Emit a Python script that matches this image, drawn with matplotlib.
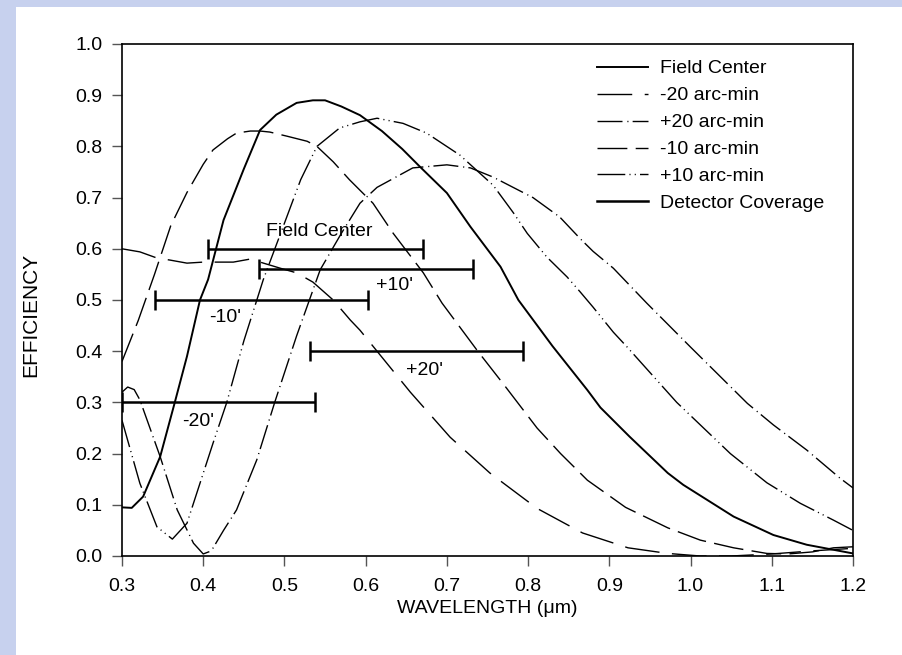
import numpy as np
import matplotlib
matplotlib.use('Agg')
import matplotlib.pyplot as plt
from matplotlib.lines import Line2D
from matplotlib.patches import Rectangle

plt.rcParams['font.family'] = ['Liberation Sans', 'DejaVu Sans']

# ---- efficiency curves ----
fc_x = [0.300, 0.312, 0.326, 0.347, 0.365, 0.380, 0.396, 0.406, 0.425, 0.450, 0.470, 0.490, 0.515,
        0.535, 0.550, 0.570, 0.593, 0.620, 0.645, 0.667, 0.700, 0.729, 0.766, 0.788, 0.830, 0.873,
        0.889, 0.925, 0.972, 0.991, 1.053, 1.102, 1.143, 1.200]
fc_y = [0.095, 0.094, 0.116, 0.194, 0.300, 0.390, 0.500, 0.540, 0.656, 0.756, 0.832, 0.862, 0.885,
        0.890, 0.890, 0.878, 0.861, 0.830, 0.795, 0.760, 0.709, 0.643, 0.565, 0.500, 0.410, 0.324,
        0.290, 0.233, 0.162, 0.139, 0.077, 0.041, 0.022, 0.005]

m20_x = [0.300, 0.322, 0.343, 0.359, 0.380, 0.400, 0.417, 0.437, 0.458, 0.470, 0.495, 0.515, 0.535,
         0.560, 0.581, 0.593, 0.614, 0.655, 0.704, 0.753, 0.811, 0.867, 0.923, 0.972, 1.012, 1.050,
         1.100, 1.150, 1.200]
m20_y = [0.600, 0.594, 0.582, 0.578, 0.572, 0.574, 0.574, 0.574, 0.580, 0.574, 0.562, 0.553, 0.535,
         0.500, 0.461, 0.441, 0.400, 0.320, 0.232, 0.162, 0.093, 0.045, 0.016, 0.005, 0.000, 0.000,
         0.004, 0.010, 0.015]

p20_x = [0.300, 0.307, 0.315, 0.322, 0.347, 0.368, 0.388, 0.400, 0.410, 0.425, 0.441, 0.466, 0.488,
         0.515, 0.544, 0.570, 0.593, 0.614, 0.658, 0.700, 0.729, 0.757, 0.806, 0.839, 0.864, 0.880,
         0.905, 0.946, 1.000, 1.070, 1.102, 1.143, 1.184, 1.200]
p20_y = [0.320, 0.330, 0.325, 0.305, 0.194, 0.090, 0.025, 0.004, 0.010, 0.050, 0.090, 0.188, 0.300,
         0.430, 0.559, 0.630, 0.689, 0.720, 0.758, 0.764, 0.758, 0.740, 0.700, 0.662, 0.620, 0.595,
         0.562, 0.494, 0.408, 0.298, 0.256, 0.207, 0.152, 0.133]

m10_x = [0.300, 0.320, 0.340, 0.360, 0.380, 0.400, 0.412, 0.430, 0.441, 0.458, 0.470, 0.482, 0.503,
         0.528, 0.540, 0.560, 0.580, 0.609, 0.634, 0.671, 0.694, 0.738, 0.770, 0.811, 0.840, 0.873,
         0.920, 0.972, 1.012, 1.053, 1.094, 1.120, 1.150, 1.176, 1.200]
m10_y = [0.380, 0.460, 0.550, 0.645, 0.710, 0.765, 0.793, 0.815, 0.826, 0.830, 0.830, 0.828, 0.820,
         0.810, 0.800, 0.770, 0.735, 0.689, 0.630, 0.553, 0.494, 0.400, 0.335, 0.250, 0.200, 0.148,
         0.095, 0.055, 0.031, 0.016, 0.005, 0.004, 0.008, 0.016, 0.018]

p10_x = [0.300, 0.322, 0.343, 0.362, 0.380, 0.396, 0.412, 0.429, 0.450, 0.474, 0.500, 0.520, 0.540,
         0.568, 0.593, 0.614, 0.646, 0.675, 0.716, 0.757, 0.782, 0.799, 0.823, 0.848, 0.864, 0.880,
         0.905, 0.922, 0.983, 1.049, 1.094, 1.135, 1.176, 1.200]
p10_y = [0.265, 0.142, 0.057, 0.033, 0.064, 0.142, 0.220, 0.300, 0.420, 0.540, 0.650, 0.735, 0.800,
         0.836, 0.848, 0.855, 0.845, 0.826, 0.783, 0.724, 0.670, 0.630, 0.584, 0.545, 0.516, 0.486,
         0.437, 0.408, 0.300, 0.200, 0.143, 0.103, 0.070, 0.050]

# ---- detector coverage bars ----
cov_names = ['Field Center', '+10\'', '-10\'', '+20\'', '-20\'']
cov_y = [0.60, 0.56, 0.50, 0.40, 0.30]
cov_start = [0.406, 0.469, 0.341, 0.532, 0.300]
cov_end = [0.671, 0.732, 0.603, 0.794, 0.538]
lab_x = [0.543, 0.636, 0.427, 0.673, 0.394]
lab_y = [0.633, 0.529, 0.465, 0.363, 0.262]

fig = plt.figure(figsize=(9.03, 6.55), dpi=100)
fig.patch.set_facecolor('#c7d1ee')
# white panel
fig.patches.append(Rectangle((16 / 903, 0), 1, 1 - 7 / 655, transform=fig.transFigure,
                             facecolor='white', edgecolor='none', zorder=-10))

ax = fig.add_axes([122 / 903, 99 / 655, 731 / 903, 512 / 655])
ax.set_facecolor('white')

ax.plot(fc_x, fc_y, color='black', lw=1.4, label='Field Center')
ax.plot(m20_x, m20_y, color='black', lw=1.0, ls=(0, (25, 9)), label='-20 arc-min')
ax.plot(p20_x, p20_y, color='black', lw=1.0, ls=(0, (18, 3.5, 0.8, 3)), label='+20 arc-min')
ax.plot(m10_x, m10_y, color='black', lw=1.0, ls=(0, (21.5, 6)), label='-10 arc-min')
ax.plot(p10_x, p10_y, color='black', lw=1.0, ls=(0, (20, 3, 0.8, 3, 0.8, 3)), label='+10 arc-min')

for i in range(len(cov_y)):
    ax.plot([cov_start[i], cov_end[i]], [cov_y[i], cov_y[i]], color='black', lw=1.8,
            marker='|', markersize=15, markeredgewidth=1.8, solid_capstyle='butt')
    ax.text(lab_x[i], lab_y[i], cov_names[i], fontsize=14, ha='center', va='center')

ax.set_xlim(0.3, 1.2)
ax.set_ylim(0.0, 1.0)
ax.set_xticks(np.arange(0.3, 1.21, 0.1))
ax.set_yticks(np.arange(0.0, 1.01, 0.1))
ax.xaxis.set_major_formatter(plt.FormatStrFormatter('%.1f'))
ax.yaxis.set_major_formatter(plt.FormatStrFormatter('%.1f'))
ax.tick_params(direction='out', length=7, width=1, color='#555555', labelsize=14)
ax.tick_params(axis='x', pad=9)
ax.tick_params(axis='y', pad=7)
for s in ax.spines.values():
    s.set_linewidth(1.2)

ax.set_xlabel('WAVELENGTH (\u03bcm)', fontsize=14)
ax.set_ylabel('EFFICIENCY', fontsize=15)
ax.xaxis.set_label_coords(0.5, -0.086)
ax.yaxis.set_label_coords(-0.112, 0.47)

handles, labels = ax.get_legend_handles_labels()
handles.append(Line2D([], [], color='black', lw=1.8))
labels.append('Detector Coverage')
ax.legend(handles, labels, loc='upper left', bbox_to_anchor=(0.65, 0.969), frameon=False,
          fontsize=14, handlelength=2.6, handletextpad=0.65, labelspacing=0.48,
          borderpad=0, borderaxespad=0)

fig.savefig('out.png', dpi=100, facecolor=fig.get_facecolor())
